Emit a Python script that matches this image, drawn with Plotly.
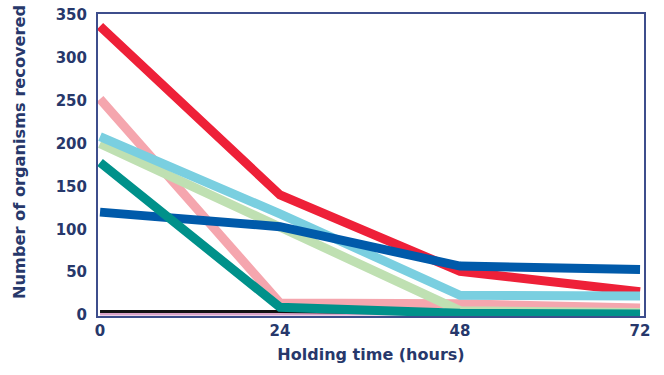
import plotly.graph_objects as go

hours = [0, 24, 48, 72]
tick_vals_y = [0, 50, 100, 150, 200, 250, 300, 350]

mauve = [1, 1, 1, 1]
black = [4, 4, 2, 1]
red = [337, 140, 51, 27]
pink = [252, 14, 13, 8]
green = [200, 103, 5, 3]
cyan = [208, 118, 23, 22]
blue = [120, 103, 57, 53]
teal = [178, 9, 2, 1]

series = [
    (mauve, "#d9a3c9", 3),
    (black, "#111111", 3),
    (red, "#ee2038", 9),
    (pink, "#f5a6ae", 9),
    (green, "#bfe0b2", 9),
    (cyan, "#7acfe0", 9),
    (blue, "#005aaa", 9),
    (teal, "#00918a", 9),
]

fig = go.Figure()
for vals, col, w in series:
    fig.add_trace(go.Scatter(x=hours, y=vals, mode="lines",
                             line=dict(color=col, width=w),
                             showlegend=False, hoverinfo="skip", cliponaxis=False))

navy = "#27386b"
axcol = "#3d4d8c"
fam = "DejaVu Sans, Verdana, sans-serif"
fig.update_layout(
    width=664, height=375,
    margin=dict(l=98, r=20, t=14, b=59),
    paper_bgcolor="white", plot_bgcolor="white",
    font=dict(family=fam, color=navy),
    xaxis=dict(range=[-0.27, 72.53], tickvals=hours, ticks="", showgrid=False,
               zeroline=False, showline=True, linecolor=axcol, linewidth=2, mirror=True,
               automargin=False, ticklabeloverflow="allow",
               tickfont=dict(size=15, weight="bold", color=navy, family=fam),
               title=dict(text="Holding time (hours)", font=dict(size=16, weight="bold", color=navy, family=fam), standoff=10)),
    yaxis=dict(range=[-1.2, 351.2], tickvals=tick_vals_y, ticks="", showgrid=False,
               zeroline=False, showline=True, linecolor=axcol, linewidth=2, mirror=True,
               automargin=False, ticklabelstandoff=6, ticklabeloverflow="allow",
               tickfont=dict(size=15, weight="bold", color=navy, family=fam)),
    annotations=[dict(text="Number of organisms recovered", xref="paper", yref="paper",
                      x=-0.1447, y=0.543, textangle=-90, showarrow=False,
                      xanchor="center", yanchor="middle",
                      font=dict(size=16.2, weight="bold", color=navy, family=fam))],
)

fig.write_html("out.html", config={"displayModeBar": False},
               post_script="document.body.style.margin='0';")
